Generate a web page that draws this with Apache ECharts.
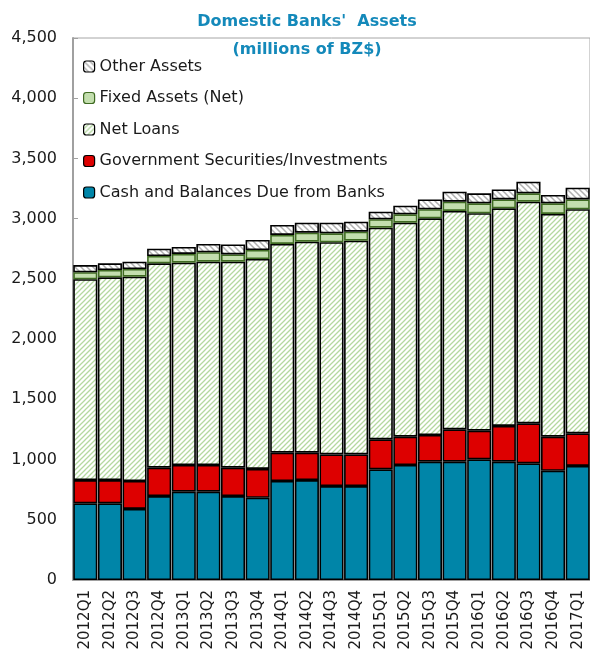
<!DOCTYPE html>
<html>
<head>
<meta charset="utf-8">
<script src="https://cdn.jsdelivr.net/npm/echarts@6/dist/echarts.min.js"></script>
<style>html,body{margin:0;padding:0;background:#fff}#c{width:590px;height:658px}</style>
</head>
<body>
<div id="c"></div>
<script>
const categories = ['2012Q1','2012Q2','2012Q3','2012Q4','2013Q1','2013Q2','2013Q3','2013Q4','2014Q1','2014Q2','2014Q3','2014Q4','2015Q1','2015Q2','2015Q3','2015Q4','2016Q1','2016Q2','2016Q3','2016Q4','2017Q1'];
const cash = [637,637,590,697,733,733,697,683,822,830,780,780,919,955,982,982,1002,982,969,907,947];
const govSecurities = [193,193,232,236,222,222,236,239,235,227,263,263,249,235,222,269,238,297,332,283,271];
const netLoans = [1667,1683,1696,1696,1680,1688,1710,1743,1733,1752,1761,1774,1757,1777,1799,1813,1805,1807,1840,1849,1860];
const fixedAssets = [58,61,64,61,72,78,60,75,75,75,74,75,70,69,75,77,82,74,69,88,82];
const otherAssets = [60,55,61,61,58,69,83,83,83,83,89,83,63,72,82,83,83,83,97,70,97];
const yTicks = [0,500,1000,1500,2000,2500,3000,3500,4000,4500];

function hatch(bg, fg, dir, size, lw) {
  const c = document.createElement('canvas');
  c.width = size; c.height = size;
  const g = c.getContext('2d');
  g.fillStyle = bg; g.fillRect(0, 0, size, size);
  g.strokeStyle = fg; g.lineWidth = lw;
  g.beginPath();
  if (dir > 0) {
    g.moveTo(-1, size + 1); g.lineTo(size + 1, -1);
    g.moveTo(-1, 1); g.lineTo(1, -1);
    g.moveTo(size - 1, size + 1); g.lineTo(size + 1, size - 1);
  } else {
    g.moveTo(-1, -1); g.lineTo(size + 1, size + 1);
    g.moveTo(size - 1, -1); g.lineTo(size + 1, 1);
    g.moveTo(-1, size - 1); g.lineTo(1, size + 1);
  }
  g.stroke();
  return c;
}
const loansPat = { image: hatch('#ffffff', '#B4D8A0', 1, 5, 1.3), repeat: 'repeat' };
const otherPat = { image: hatch('#ffffff', '#B0B0B0', -1, 6, 1.5), repeat: 'repeat' };

const FONT = 'DejaVu Sans';
const names = ['Cash and Balances Due from Banks','Government Securities/Investments','Net Loans','Fixed Assets (Net)','Other Assets'];
const datas = [cash, govSecurities, netLoans, fixedAssets, otherAssets];
const fills = ['#0085A8', '#DD0000', loansPat, '#C3DEAE', otherPat];
const borders = ['#000000', '#000000', '#000000', '#3F6B22', '#000000'];

const series = names.map((n, i) => ({
  name: n,
  type: 'bar',
  stack: 'total',
  barCategoryGap: '2%',
  data: datas[i],
  itemStyle: { color: fills[i], borderColor: borders[i], borderWidth: 1.6 },
  emphasis: { disabled: true }
}));

const chart = echarts.init(document.getElementById('c'), null, { renderer: 'canvas' });
chart.setOption({
  animation: false,
  backgroundColor: '#ffffff',
  title: {
    text: "Domestic Banks'  Assets\n(millions of BZ$)",
    left: 302, top: 3, textAlign: 'center',
    textStyle: { fontFamily: FONT, fontSize: 16, fontWeight: 'bold', color: '#1489BA', lineHeight: 28 }
  },
  legend: {
    orient: 'vertical', left: 78, top: 53,
    itemWidth: 11, itemHeight: 11, itemGap: 14.5,
    data: names.slice().reverse(),
    textStyle: { fontFamily: FONT, fontSize: 16, color: '#1a1a1a', lineHeight: 17 },
    itemStyle: { borderWidth: 1.2 },
    selectedMode: false
  },
  grid: { left: 73, right: -1, top: 38, bottom: 78, show: true, borderColor: '#A6A6A6', borderWidth: 1, backgroundColor: 'transparent' },
  xAxis: {
    type: 'category', data: categories,
    axisLine: { lineStyle: { color: '#A0A0A0', width: 2 } },
    axisTick: { inside: true, length: 7, lineStyle: { color: '#A0A0A0' } },
    axisLabel: { rotate: 90, margin: 10, fontFamily: FONT, fontSize: 15, color: '#1a1a1a', interval: 0 }
  },
  yAxis: {
    type: 'value', min: yTicks[0], max: yTicks[yTicks.length - 1], interval: 500,
    axisLine: { show: true, lineStyle: { color: '#A0A0A0', width: 2 } },
    axisTick: { show: true, inside: true, length: 5, lineStyle: { color: '#A0A0A0' } },
    splitLine: { show: false },
    axisLabel: { margin: 16, fontFamily: FONT, fontSize: 16, color: '#1a1a1a', formatter: v => v.toLocaleString('en-US') }
  },
  series: series
});
</script>
</body>
</html>
